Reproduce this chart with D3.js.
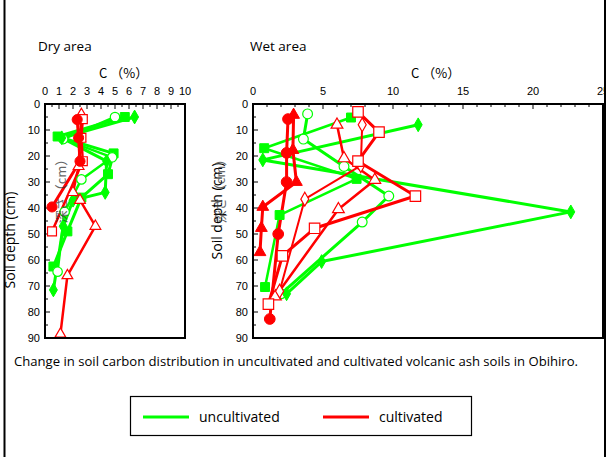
<!DOCTYPE html>
<html>
<head>
    <script src="https://d3js.org/d3.v7.min.js"></script>
    <style>
        body { margin: 0; background: #fff; }
        text { font-family: "Liberation Sans", Arial, sans-serif; }
    </style>
</head>
<body>
    <div id="chart"></div>
    <script>
        // ---- data: [C %, depth cm] ----
        // dry area, uncultivated (green)
        const dryUnSquare = [[5.7, 5], [0.9, 12.5], [4.9, 19], [4.5, 27], [2.6, 36], [1.6, 49], [0.6, 62.5]];
        const dryUnCircle = [[5.0, 5], [1.3, 13.5], [4.8, 20.5], [2.6, 29], [1.4, 41.5], [0.9, 64.5]];
        const dryUnDiamond = [[6.4, 5], [1.2, 13], [4.4, 22], [4.3, 34], [2.0, 37], [1.3, 47], [0.6, 71.5]];
        // dry area, cultivated (red)
        const dryCuCircle = [[2.3, 6], [2.4, 13], [2.5, 22], [0.5, 39.6]];
        const dryCuSquare = [[2.7, 5.8], [2.6, 13], [2.7, 22], [0.5, 49]];
        const dryCuTriangle = [[2.6, 4], [2.5, 13], [2.4, 24], [2.0, 34], [2.5, 37], [3.6, 47], [1.6, 66], [1.1, 88.5]];
        // wet area, uncultivated (green)
        const wetUnSquare = [[7.0, 5.2], [0.8, 17], [7.4, 28.8], [1.9, 42.7], [0.86, 70.4]];
        const wetUnCircle = [[3.9, 3.8], [3.6, 13.5], [6.5, 24], [9.7, 35.4], [7.8, 45.4], [2.0, 73]];
        const wetUnDiamond = [[11.8, 8], [0.7, 21.5], [22.7, 41.5], [4.9, 60.6], [2.4, 73]];
        // wet area, cultivated (red)
        const wetCuCircle = [[2.5, 5.8], [2.4, 18.8], [2.4, 30], [1.8, 50], [1.2, 82.7]];
        const wetCuTriangleF = [[2.9, 4.2], [2.85, 17.7], [3.1, 30], [0.7, 39.6], [0.6, 47.7], [0.5, 57]];
        const wetCuSquare = [[7.5, 3], [9.0, 10.8], [7.5, 22], [11.6, 35.4], [4.4, 47.8], [2.1, 58.4], [1.1, 77]];
        const wetCuDiamond = [[7.8, 8], [7.7, 23.7], [3.7, 36.6], [1.9, 72]];
        const wetCuTriangle = [[6.0, 8], [6.5, 20.9], [8.7, 29.2], [6.1, 40.5], [1.6, 74]];

        const dryTicks = [0, 1, 2, 3, 4, 5, 6, 7, 8, 9, 10];
        const wetTicks = [0, 5, 10, 15, 20, 25];
        const depthTicks = [0, 10, 20, 30, 40, 50, 60, 70, 80, 90];
        const legendLabels = ["uncultivated", "cultivated"];

        const green = "#00ff00", red = "#ff0000";

        const svg = d3.select("#chart").append("svg")
            .attr("width", 606).attr("height", 457);

        const y = d3.scaleLinear().domain([0, 90]).range([104, 338]);

        function drawPanel(x, ticks, minorStep, series, title, titleX) {
            const g = svg.append("g");
            const [x0, x1] = x.range();

            // minor + major ticks on top axis (pointing in)
            const xd = x.domain();
            const minors = d3.range(xd[0], xd[1] + 0.001, minorStep);
            g.selectAll(".xmin").data(minors).enter().append("line")
                .attr("x1", d => x(d)).attr("x2", d => x(d))
                .attr("y1", 104).attr("y2", d => ticks.includes(d) ? 109 : 107)
                .attr("stroke", "#000").attr("stroke-width", 1);
            g.selectAll(".xlab").data(ticks).enter().append("text")
                .attr("x", d => x(d)).attr("y", 95)
                .attr("text-anchor", "middle").attr("font-size", 11)
                .text(d => d);

            // y ticks
            const yMinor = d3.range(0, 90.1, 5);
            g.selectAll(".ymin").data(yMinor).enter().append("line")
                .attr("x1", x0).attr("x2", d => d % 10 === 0 ? x0 + 5 : x0 + 3)
                .attr("y1", d => y(d)).attr("y2", d => y(d))
                .attr("stroke", "#000").attr("stroke-width", 1);
            g.selectAll(".ylab").data(depthTicks).enter().append("text")
                .attr("x", x0 - 5).attr("y", d => y(d) + 4)
                .attr("text-anchor", "end").attr("font-size", 11)
                .text(d => d);

            // C (%) title
            g.append("text").attr("x", titleX).attr("y", 78).attr("font-size", 13)
                .style("font-family", "'Noto Sans CJK JP', sans-serif")
                .text("C （%）");

            // panel title
            g.append("text").attr("x", title.x).attr("y", 51).attr("font-size", 13.5)
                .style("font-family", "'Open Sans', sans-serif")
                .text(title.text);

            // lines + markers
            const line = d3.line().x(d => x(d[0])).y(d => y(d[1]));
            series.forEach(s => {
                g.append("path").datum(s.data)
                    .attr("fill", "none").attr("stroke", s.color)
                    .attr("stroke-width", s.width || 2.5)
                    .attr("stroke-linejoin", "round")
                    .attr("d", line);
            });
            series.forEach(s => {
                g.selectAll(null).data(s.data).enter().append("path")
                    .attr("transform", d => `translate(${x(d[0])},${y(d[1])})`)
                    .attr("d", d3.symbol().type(s.symbol).size(s.size || 70))
                    .attr("fill", s.open ? "#fff" : s.color)
                    .attr("stroke", s.color).attr("stroke-width", s.open ? 1.2 : 1);
            });

            // frame
            g.append("rect").attr("x", x0).attr("y", 104)
                .attr("width", x1 - x0).attr("height", 234)
                .attr("fill", "none").attr("stroke", "#000").attr("stroke-width", 2);
        }

        const xDry = d3.scaleLinear().domain([0, 10]).range([45, 185]);
        const xWet = d3.scaleLinear().domain([0, 25]).range([253, 603]);

        drawPanel(xDry, dryTicks, 0.5, [
            { data: dryUnSquare, color: green, symbol: d3.symbolSquare, size: 80, width: 3 },
            { data: dryUnCircle, color: green, symbol: d3.symbolCircle, open: true, size: 70, width: 2.5 },
            { data: dryUnDiamond, color: green, symbol: d3.symbolDiamond, size: 55, width: 3 },
            { data: dryCuTriangle, color: red, symbol: d3.symbolTriangle, open: true, size: 50, width: 2.5 },
            { data: dryCuSquare, color: red, symbol: d3.symbolSquare, open: true, size: 80, width: 2.5 },
            { data: dryCuCircle, color: red, symbol: d3.symbolCircle, size: 80, width: 3 }
        ], { x: 38, text: "Dry area" }, 99);

        drawPanel(xWet, wetTicks, 1, [
            { data: wetUnSquare, color: green, symbol: d3.symbolSquare, size: 80, width: 2.5 },
            { data: wetUnCircle, color: green, symbol: d3.symbolCircle, open: true, size: 75, width: 3 },
            { data: wetUnDiamond, color: green, symbol: d3.symbolDiamond, size: 55, width: 3 },
            { data: wetCuTriangle, color: red, symbol: d3.symbolTriangle, open: true, size: 60, width: 2.5 },
            { data: wetCuDiamond, color: red, symbol: d3.symbolDiamond, open: true, size: 55, width: 2 },
            { data: wetCuSquare, color: red, symbol: d3.symbolSquare, open: true, size: 110, width: 3 },
            { data: wetCuTriangleF, color: red, symbol: d3.symbolTriangle, size: 60, width: 3 },
            { data: wetCuCircle, color: red, symbol: d3.symbolCircle, size: 90, width: 3 }
        ], { x: 250, text: "Wet area" }, 411);

        // axis titles
        svg.append("text").attr("transform", "translate(15,240) rotate(-90)")
            .attr("text-anchor", "middle").attr("font-size", 14)
            .style("font-family", "'Open Sans', sans-serif")
            .text("Soil depth (cm)");
        svg.append("text").attr("transform", "translate(222,211) rotate(-90)")
            .attr("text-anchor", "middle").attr("font-size", 14)
            .style("font-family", "'Open Sans', sans-serif")
            .text("Soil depth (cm)");

        // leftover Japanese labels showing through
        [[66, 188], [225, 188]].forEach(p => {
            svg.append("text").attr("transform", `translate(${p[0]},${p[1]}) rotate(-90)`)
                .attr("text-anchor", "middle").attr("font-size", 13)
                .attr("fill", "#333").attr("opacity", 0.75)
                .style("font-family", "'Noto Sans CJK JP', sans-serif")
                .text("深さ（cm）");
        });

        // outer frame (only the side edges show); clips the left label
        svg.append("rect").attr("x", 0).attr("y", 0).attr("width", 4).attr("height", 457).attr("fill", "#fff");
        svg.append("line").attr("x1", 4.5).attr("x2", 4.5).attr("y1", 0).attr("y2", 457)
            .attr("stroke", "#000").attr("stroke-width", 2);
        svg.append("line").attr("x1", 605).attr("x2", 605).attr("y1", 0).attr("y2", 457)
            .attr("stroke", "#000").attr("stroke-width", 2);

        // caption
        svg.append("text").attr("x", 14).attr("y", 366).attr("font-size", 13)
            .attr("textLength", 564).attr("lengthAdjust", "spacingAndGlyphs")
            .style("font-family", "'Open Sans', sans-serif")
            .text("Change in soil carbon distribution in uncultivated and cultivated volcanic ash soils in Obihiro.");

        // legend
        const lg = svg.append("g");
        lg.append("rect").attr("x", 130.5).attr("y", 396.5).attr("width", 341).attr("height", 39)
            .attr("fill", "#fff").attr("stroke", "#000").attr("stroke-width", 1.2);
        const lx = [143, 323];
        legendLabels.forEach((t, i) => {
            lg.append("line").attr("x1", lx[i]).attr("x2", lx[i] + 46)
                .attr("y1", 417).attr("y2", 417)
                .attr("stroke", i === 0 ? green : red).attr("stroke-width", 3);
            lg.append("text").attr("x", lx[i] + 56).attr("y", 422).attr("font-size", 14)
                .style("font-family", "'Open Sans', sans-serif")
                .text(t);
        });
    </script>
</body>
</html>
